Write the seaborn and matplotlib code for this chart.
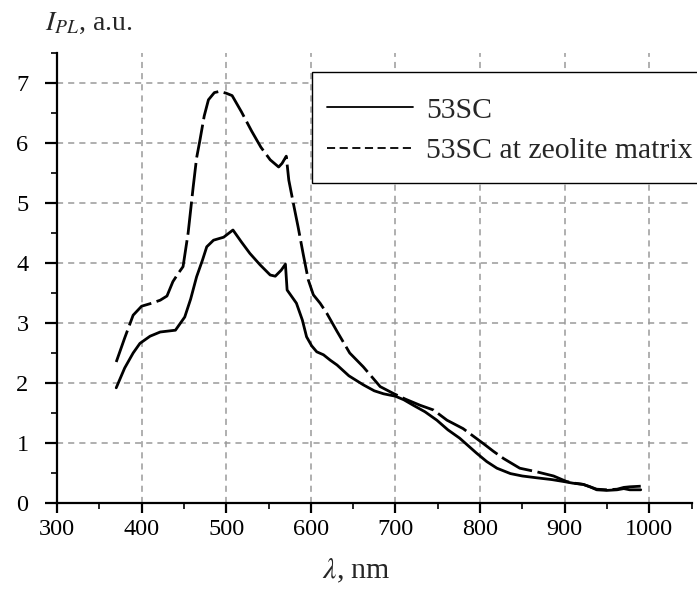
import matplotlib
matplotlib.use("Agg")
import matplotlib.pyplot as plt
from matplotlib.lines import Line2D
from matplotlib.patches import Rectangle
from matplotlib.ticker import MultipleLocator
import seaborn as sns
import pandas as pd

# ---- data ----
x_53sc = [370, 380, 390, 398, 410, 422, 440, 451, 458, 465, 472, 477, 485, 497, 508,
          518, 528, 540, 552, 558, 565, 570, 572, 583, 590, 595, 601, 607, 615, 623,
          631, 645, 662, 675, 686, 700, 710, 721, 735, 749, 762, 776, 788, 796, 808,
          820, 836, 850, 867, 885, 898, 910, 922, 930, 938, 950, 962, 970, 977, 990]
y_53sc = [1.92, 2.25, 2.50, 2.66, 2.78, 2.85, 2.88, 3.10, 3.40, 3.77, 4.05, 4.27, 4.38, 4.43, 4.55,
          4.35, 4.16, 3.97, 3.80, 3.78, 3.88, 3.98, 3.55, 3.33, 3.05, 2.77, 2.62, 2.52, 2.47, 2.38,
          2.30, 2.12, 1.97, 1.87, 1.82, 1.78, 1.72, 1.63, 1.52, 1.38, 1.22, 1.08, 0.93, 0.83, 0.69,
          0.58, 0.49, 0.45, 0.42, 0.39, 0.36, 0.33, 0.31, 0.27, 0.22, 0.21, 0.22, 0.24, 0.22, 0.22]

x_zeo = [370, 380, 390, 400, 412, 422, 430, 437, 443, 449, 455, 461, 465, 469, 474,
         479, 486, 492, 500, 507, 518, 530, 541, 552, 562, 566, 571, 574, 580, 585,
         591, 597, 603, 611, 619, 631, 646, 662, 682, 697, 712, 729, 745, 761, 780,
         804, 816, 828, 847, 867, 887, 902, 912, 922, 930, 938, 950, 962, 970, 977, 990]
y_zeo = [2.35, 2.75, 3.13, 3.28, 3.33, 3.38, 3.45, 3.69, 3.82, 3.94, 4.50, 5.27, 5.75, 6.05, 6.45,
         6.72, 6.84, 6.86, 6.83, 6.79, 6.52, 6.20, 5.93, 5.72, 5.60, 5.66, 5.78, 5.38, 4.95, 4.60,
         4.15, 3.72, 3.47, 3.33, 3.16, 2.86, 2.50, 2.27, 1.94, 1.83, 1.73, 1.63, 1.55, 1.38, 1.24,
         0.99, 0.86, 0.74, 0.58, 0.52, 0.45, 0.36, 0.33, 0.31, 0.27, 0.23, 0.22, 0.23, 0.26, 0.27, 0.28]

series_names = ["53SC", "53SC at zeolite matrix"]
x_ticks = [300, 400, 500, 600, 700, 800, 900, 1000]
y_ticks = [0, 1, 2, 3, 4, 5, 6, 7]

# ---- style ----
sns.set_style("white")
plt.rcParams["font.family"] = ["Liberation Serif", "DejaVu Serif"]
plt.rcParams["mathtext.fontset"] = "stix"

W, H = 697, 589
fig = plt.figure(figsize=(W / 100, H / 100), dpi=100)
ax = fig.add_axes([57 / W, 1 - 503 / H, (691.5 - 57) / W, (503 - 53) / H])

df1 = pd.DataFrame({"x": x_53sc, "y": y_53sc})
df2 = pd.DataFrame({"x": x_zeo, "y": y_zeo})
sns.lineplot(data=df1, x="x", y="y", ax=ax, color="black", lw=2.0, sort=False,
             estimator=None, zorder=3)
sns.lineplot(data=df2, x="x", y="y", ax=ax, color="black", lw=2.0, sort=False,
             estimator=None, zorder=3, linestyle=(0, (12, 2)))

ax.set_xlim(300, 1050)
ax.set_ylim(0, 7.5)
ax.set_xticks(x_ticks)
ax.set_yticks(y_ticks)
ax.xaxis.set_minor_locator(MultipleLocator(50))
ax.yaxis.set_minor_locator(MultipleLocator(0.5))
ax.set_xlabel("")
ax.set_ylabel("")

ax.grid(True, which="major", color="#9a9a9a", linestyle=(0, (4, 3.3)), linewidth=1.1)
ax.set_axisbelow(True)

for s in ["top", "right"]:
    ax.spines[s].set_visible(False)
for s in ["left", "bottom"]:
    ax.spines[s].set_color("black")
    ax.spines[s].set_linewidth(1.6)

ax.tick_params(axis="x", which="major", direction="out", length=7.5, width=1.6,
               pad=4, labelsize=17.5, colors="black", bottom=True)
ax.tick_params(axis="x", which="minor", direction="out", length=4, width=1.4, bottom=True)
ax.tick_params(axis="y", which="major", direction="out", length=8.5, width=1.6,
               pad=12, labelsize=17.5, colors="black", left=True)
ax.tick_params(axis="y", which="minor", direction="out", length=4, width=1.4, left=True)

# axis labels
fig.text(45 / W, 1 - 30 / H, r"$I_{PL}$, a.u.", fontsize=20, ha="left", va="baseline")
fig.text(322 / W, 1 - 578 / H, r"$\lambda$, nm", fontsize=21.5, ha="left", va="baseline")

# legend frame (extends past the right edge, as in the reference)
frame = Rectangle((312 / W, 1 - 183 / H), (760 - 312) / W, (183 - 72) / H,
                  transform=fig.transFigure, facecolor="white", edgecolor="black",
                  linewidth=1.0, zorder=4)
fig.add_artist(frame)

handles = [Line2D([], [], color="black", lw=1.3),
           Line2D([], [], color="black", lw=1.3, linestyle=(0, (4.5, 2.5)))]
leg = fig.legend(handles, series_names, loc="upper left",
                 bbox_to_anchor=(327 / W, 1 - 97 / H), fontsize=21.4,
                 frameon=False, borderpad=0, handlelength=2.9, handletextpad=0.44,
                 labelspacing=0.46, borderaxespad=0)
leg.set_zorder(5)

fig.savefig("out.png", dpi=100)
